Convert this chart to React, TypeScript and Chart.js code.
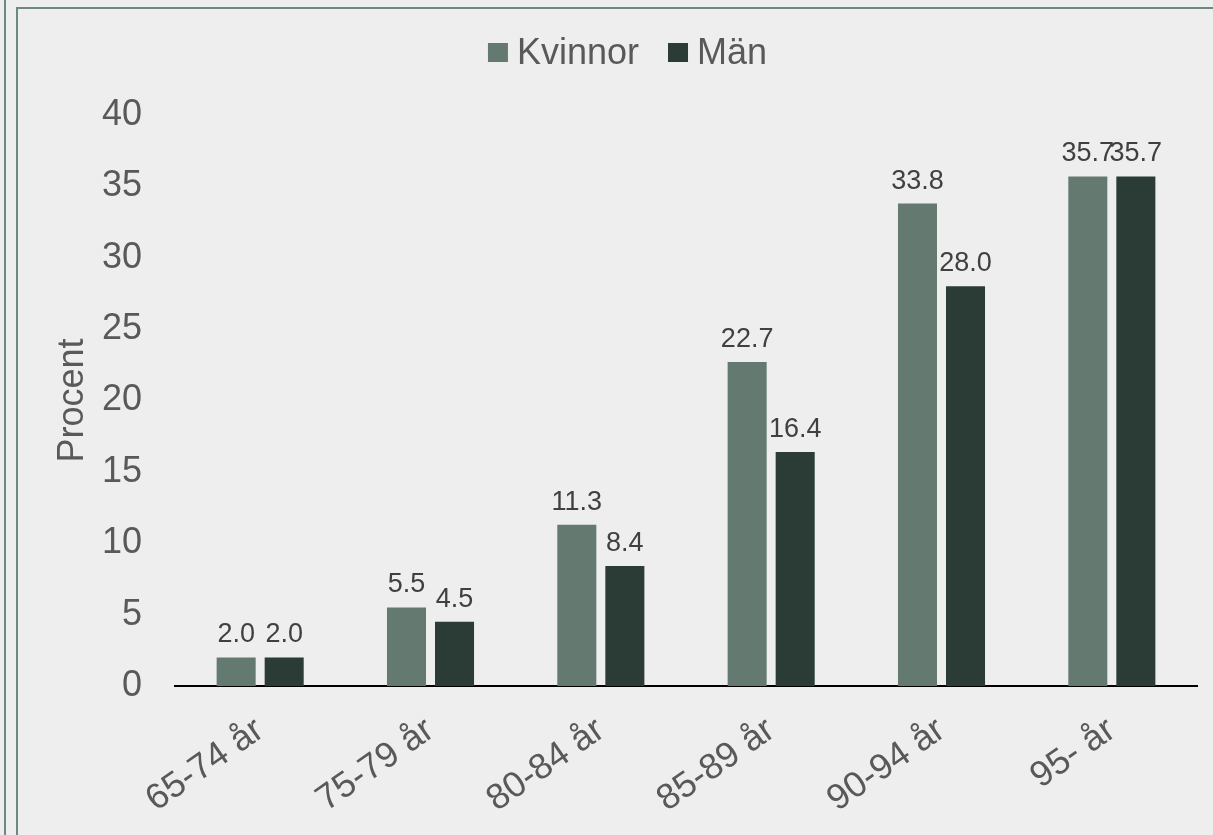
import React, { useEffect, useRef } from 'react';
import { Chart, registerables } from 'chart.js';

Chart.register(...registerables);

const categories = ['65-74 år', '75-79 år', '80-84 år', '85-89 år', '90-94 år', '95- år'];
const kvinnor = [2.0, 5.5, 11.3, 22.7, 33.8, 35.7];
const man = [2.0, 4.5, 8.4, 16.4, 28.0, 35.7];
const seriesLabels = ['Kvinnor', 'Män'];
const seriesColors = ['#647a70', '#2b3b35'];
const yAxisTitle = 'Procent';

const FONT = '"Liberation Sans", Arial, sans-serif';
const TEXT = '#595959';
const LABEL_TEXT = '#404040';
const FRAME = '#6e8a80';

const valueLabelPlugin = {
  id: 'valueLabels',
  afterDatasetsDraw(chart: any) {
    const ctx = chart.ctx;
    ctx.save();
    ctx.font = `27px ${FONT}`;
    ctx.fillStyle = LABEL_TEXT;
    ctx.textAlign = 'center';
    ctx.textBaseline = 'alphabetic';
    chart.data.datasets.forEach((ds: any, i: number) => {
      const meta = chart.getDatasetMeta(i);
      meta.data.forEach((el: any, j: number) => {
        const v = ds.data[j] as number;
        ctx.fillText(v.toFixed(1), el.x, el.y - 15);
      });
    });
    ctx.restore();
  },
};

const legendPlugin = {
  id: 'customLegend',
  afterDraw(chart: any) {
    const ctx = chart.ctx;
    ctx.save();
    ctx.font = `36px ${FONT}`;
    const box = 20;
    const gap = 9;
    const spacing = 29;
    const items = chart.data.datasets.map((d: any) => ({
      text: d.label as string,
      color: d.backgroundColor as string,
      w: ctx.measureText(d.label).width,
    }));
    const total =
      items.reduce((a: number, it: any) => a + box + gap + it.w, 0) + spacing * (items.length - 1);
    const center = (chart.scales.y.left + chart.chartArea.right) / 2;
    let x = center - total / 2;
    ctx.textBaseline = 'alphabetic';
    ctx.textAlign = 'left';
    items.forEach((it: any) => {
      ctx.fillStyle = it.color;
      ctx.fillRect(x, 43, box, 19);
      x += box + gap;
      ctx.fillStyle = TEXT;
      ctx.fillText(it.text, x, 64);
      x += it.w + spacing;
    });
    ctx.restore();
  },
};

export default function App() {
  const ref = useRef<HTMLCanvasElement>(null);

  useEffect(() => {
    document.body.style.margin = '0';
    const canvas = ref.current!;
    const chart = new Chart(canvas, {
      type: 'bar',
      data: {
        labels: categories,
        datasets: [
          {
            label: seriesLabels[0],
            data: kvinnor,
            backgroundColor: seriesColors[0],
            barPercentage: 0.8125,
            categoryPercentage: 0.564,
          },
          {
            label: seriesLabels[1],
            data: man,
            backgroundColor: seriesColors[1],
            barPercentage: 0.8125,
            categoryPercentage: 0.564,
          },
        ],
      },
      options: {
        responsive: false,
        animation: false,
        layout: { padding: { left: 58, right: 16, top: 115, bottom: 0 } },
        plugins: {
          legend: { display: false },
          tooltip: { enabled: false },
        },
        scales: {
          x: {
            grid: { display: false, drawTicks: false },
            border: { display: true, color: '#000000', width: 2 },
            ticks: {
              color: TEXT,
              font: { size: 36, family: FONT },
              minRotation: 35,
              maxRotation: 35,
              padding: 23,
              autoSkip: false,
            },
            afterFit: (s: any) => {
              s.height = 149;
            },
          },
          y: {
            min: 0,
            max: 40,
            ticks: {
              stepSize: 5,
              padding: 33,
              color: TEXT,
              font: { size: 36, family: FONT },
            },
            grid: { display: false, drawTicks: false },
            border: { display: false },
            title: {
              display: true,
              text: yAxisTitle,
              color: TEXT,
              font: { size: 36, family: FONT },
              padding: { top: -7, bottom: 0 },
            },
            afterFit: (s: any) => {
              s.width = 117;
            },
          },
        },
      } as any,
      plugins: [valueLabelPlugin, legendPlugin],
    });
    return () => chart.destroy();
  }, []);

  return (
    <div
      style={{
        position: 'fixed',
        left: 0,
        top: 0,
        width: 1213,
        height: 835,
        background: '#eeeeee',
        overflow: 'hidden',
      }}
    >
      <div
        style={{
          position: 'absolute',
          left: 4,
          top: -10,
          width: 2,
          height: 900,
          background: FRAME,
        }}
      />
      <div
        style={{
          position: 'absolute',
          left: 16,
          top: 7,
          width: 1300,
          height: 1000,
          border: `2px solid ${FRAME}`,
          boxSizing: 'border-box',
        }}
      />
      <canvas
        ref={ref}
        width={1213}
        height={835}
        style={{ position: 'absolute', left: 0, top: 0, width: 1213, height: 835 }}
      />
    </div>
  );
}
